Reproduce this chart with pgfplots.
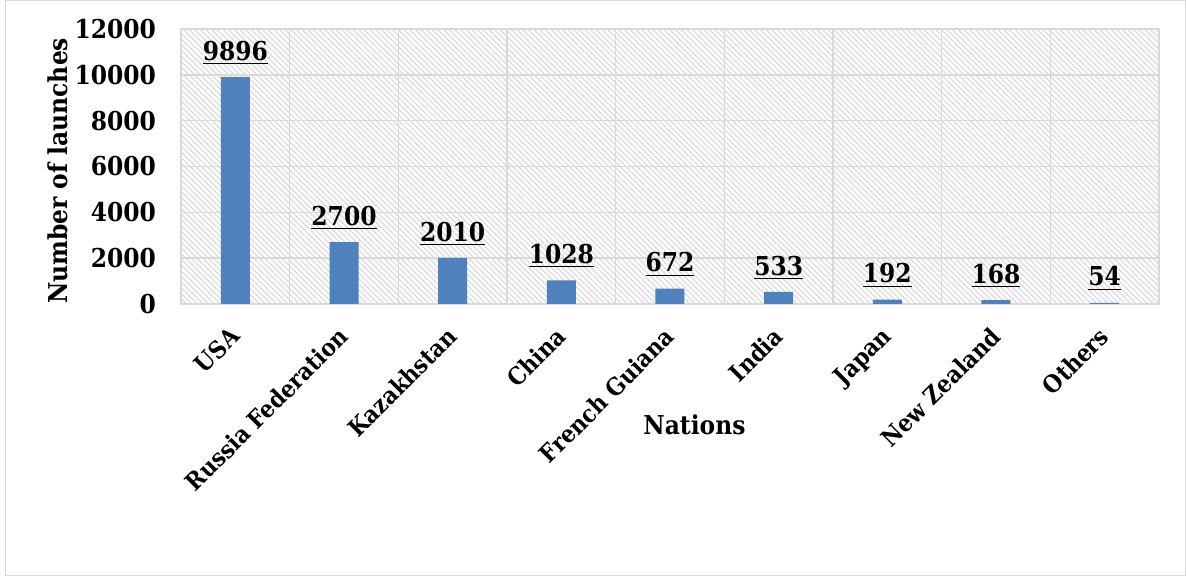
\documentclass[border=0pt]{standalone}
\usepackage{pgfplots}
\pgfplotsset{compat=1.18}
\usepackage{fontspec}
\setmainfont{DejaVu Serif Condensed}
\usetikzlibrary{patterns.meta}
\definecolor{barblue}{HTML}{4F81BD}
\definecolor{gridgray}{HTML}{D9D9D9}
\definecolor{hatchgray}{HTML}{DADADA}
\begin{document}
\begin{tikzpicture}
\path (0,0) rectangle (593pt,288pt);
\draw[gridgray, line width=0.6pt] (2.8pt,0.4pt) rectangle (592.6pt,287.6pt);
\begin{axis}[
 at={(90.5pt,136pt)}, anchor=south west,
 scale only axis, width=489pt, height=137.5pt,
 xmin=-0.5, xmax=8.5, ymin=0, ymax=12000,
 xtick={0,...,8},
 xticklabels={USA, Russia Federation, Kazakhstan, China, French Guiana, India, Japan, New Zealand, Others},
 minor xtick={-0.5,0.5,...,8.5},
 ytick={0,2000,...,12000},
 xminorgrids=true, ymajorgrids=true, xmajorgrids=false,
 grid style={gridgray, line width=0.8pt},
 minor grid style={gridgray, line width=0.8pt},
 major tick length=0pt, minor tick length=0pt,
 axis line style={gridgray, line width=0.8pt},
 axis background/.style={pattern={Lines[angle=-45,distance=2pt,line width=0.6pt]}, pattern color=hatchgray},
 scaled y ticks=false,
 /pgf/number format/1000 sep={},
 /pgf/number format/assume math mode=true,
 tick label style={font=\bfseries\fontsize{13}{15}\selectfont, black},
 yticklabel style={xshift=-9pt},
 xticklabel style={font=\bfseries\fontsize{12}{14}\selectfont, xshift=-3.5pt, yshift=-10.5pt, rotate=45, anchor=north east, inner sep=0pt},
 ylabel={Number of launches}, xlabel={Nations},
 label style={font=\bfseries\fontsize{13}{15}\selectfont},
 ylabel style={at={(axis description cs:-0.126,0.484)}, anchor=center},
 xlabel style={at={(axis description cs:0.525,-0.44)}, anchor=center},
 ybar, bar width=14.5pt,
 nodes near coords={\underline{\pgfmathprintnumber{\pgfplotspointmeta}}},
 every node near coord/.append style={font=\bfseries\fontsize{13}{15}\selectfont, black, anchor=south, inner sep=0pt, yshift=6pt},
]
\addplot[fill=barblue, draw=none] coordinates {(0,9896) (1,2700) (2,2010) (3,1028) (4,672) (5,533) (6,192) (7,168) (8,54)};
\end{axis}
\end{tikzpicture}
\end{document}
